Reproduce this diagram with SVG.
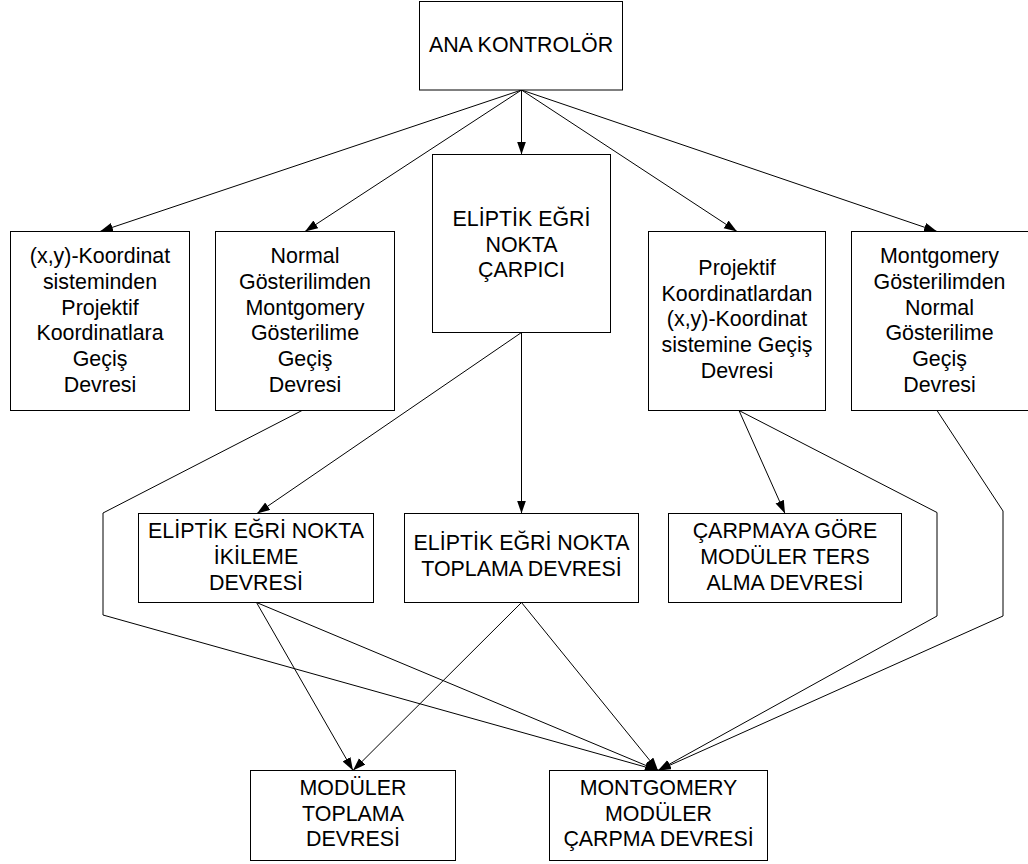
<svg xmlns="http://www.w3.org/2000/svg" width="1028" height="864" viewBox="0 0 1028 864">
<style>
.box{fill:#fff;stroke:#000;stroke-width:1}
.lbl{font-family:"Liberation Sans",Arial,sans-serif;font-size:21.4px;fill:#000;text-anchor:middle}
.con{fill:none;stroke:#000;stroke-width:1;marker-end:url(#arr)}
</style>
<defs>
<marker id="arr" markerUnits="userSpaceOnUse" markerWidth="14" markerHeight="10" refX="13" refY="4.5" orient="auto" viewBox="0 0 14 10">
<path d="M0,0 L13,4.5 L0,9 z" fill="#000"/>
</marker>
</defs>
<rect width="1028" height="864" fill="#fff"/>
<g id="connectors">
<line class="con" x1="521.5" y1="90" x2="100" y2="231.5"/>
<line class="con" x1="521.5" y1="90" x2="305" y2="231.5"/>
<line class="con" x1="521.5" y1="90" x2="521.5" y2="154.5"/>
<line class="con" x1="521.5" y1="90" x2="737" y2="231.5"/>
<line class="con" x1="521.5" y1="90" x2="937" y2="231.5"/>
<line class="con" x1="521.5" y1="332.5" x2="257" y2="513.5"/>
<line class="con" x1="521.5" y1="332.5" x2="521.5" y2="513.5"/>
<polyline class="con" points="302,410.5 103,513 103,615 658,770.5"/>
<line class="con" x1="739" y1="410.5" x2="785" y2="513.5"/>
<polyline class="con" points="739,410.5 937,512.5 937,616 658,770.5"/>
<polyline class="con" points="937,410.5 1003,511 1003,616 658,770.5"/>
<line class="con" x1="256.5" y1="602.5" x2="353" y2="770.5"/>
<line class="con" x1="256.5" y1="602.5" x2="658" y2="770.5"/>
<line class="con" x1="521.5" y1="602.5" x2="353" y2="770.5"/>
<line class="con" x1="521.5" y1="602.5" x2="658" y2="770.5"/>
</g>
<g id="ana">
<rect class="box" x="419.5" y="1.5" width="203" height="88.5"/>
<text class="lbl" x="521" y="52">ANA KONTROLÖR</text>
</g>
<g id="xy2proj">
<rect class="box" x="10.5" y="231.5" width="179" height="179"/>
<text class="lbl" x="100" y="263.3">(x,y)-Koordinat<tspan x="100" dy="25.7">sisteminden</tspan><tspan x="100" dy="25.7">Projektif</tspan><tspan x="100" dy="25.7">Koordinatlara</tspan><tspan x="100" dy="25.7">Geçiş</tspan><tspan x="100" dy="25.7">Devresi</tspan></text>
</g>
<g id="norm2mont">
<rect class="box" x="215.5" y="231.5" width="179" height="179"/>
<text class="lbl" x="305" y="263.3">Normal<tspan x="305" dy="25.7">Gösterilimden</tspan><tspan x="305" dy="25.7">Montgomery</tspan><tspan x="305" dy="25.7">Gösterilime</tspan><tspan x="305" dy="25.7">Geçiş</tspan><tspan x="305" dy="25.7">Devresi</tspan></text>
</g>
<g id="carpici">
<rect class="box" x="432.5" y="154.5" width="178" height="178"/>
<text class="lbl" x="521.5" y="226">ELİPTİK EĞRİ<tspan x="521.5" dy="25.7">NOKTA</tspan><tspan x="521.5" dy="25.7">ÇARPICI</tspan></text>
</g>
<g id="proj2xy">
<rect class="box" x="648.5" y="231.5" width="177" height="179"/>
<text class="lbl" x="737" y="275">Projektif<tspan x="737" dy="25.7">Koordinatlardan</tspan><tspan x="737" dy="25.7">(x,y)-Koordinat</tspan><tspan x="737" dy="25.7">sistemine Geçiş</tspan><tspan x="737" dy="25.7">Devresi</tspan></text>
</g>
<g id="mont2norm">
<rect class="box" x="851.5" y="231.5" width="177" height="179"/>
<text class="lbl" x="939.5" y="263.3">Montgomery<tspan x="939.5" dy="25.7">Gösterilimden</tspan><tspan x="939.5" dy="25.7">Normal</tspan><tspan x="939.5" dy="25.7">Gösterilime</tspan><tspan x="939.5" dy="25.7">Geçiş</tspan><tspan x="939.5" dy="25.7">Devresi</tspan></text>
</g>
<g id="ikileme">
<rect class="box" x="138.5" y="513.5" width="235" height="89"/>
<text class="lbl" x="256" y="538.3">ELİPTİK EĞRİ NOKTA<tspan x="256" dy="25.7">İKİLEME</tspan><tspan x="256" dy="25.7">DEVRESİ</tspan></text>
</g>
<g id="toplama">
<rect class="box" x="404.5" y="513.5" width="234" height="89"/>
<text class="lbl" x="521.5" y="550">ELİPTİK EĞRİ NOKTA<tspan x="521.5" dy="25.7">TOPLAMA DEVRESİ</tspan></text>
</g>
<g id="tersalma">
<rect class="box" x="668.5" y="513.5" width="233" height="89"/>
<text class="lbl" x="785" y="538.3">ÇARPMAYA GÖRE<tspan x="785" dy="25.7">MODÜLER TERS</tspan><tspan x="785" dy="25.7">ALMA DEVRESİ</tspan></text>
</g>
<g id="modtoplama">
<rect class="box" x="250.5" y="770.5" width="205" height="90"/>
<text class="lbl" x="353" y="795">MODÜLER<tspan x="353" dy="25.7">TOPLAMA</tspan><tspan x="353" dy="25.7">DEVRESİ</tspan></text>
</g>
<g id="montcarpma">
<rect class="box" x="549.5" y="770.5" width="218" height="90"/>
<text class="lbl" x="658.5" y="795">MONTGOMERY<tspan x="658.5" dy="25.7">MODÜLER</tspan><tspan x="658.5" dy="25.7">ÇARPMA DEVRESİ</tspan></text>
</g>
</svg>
